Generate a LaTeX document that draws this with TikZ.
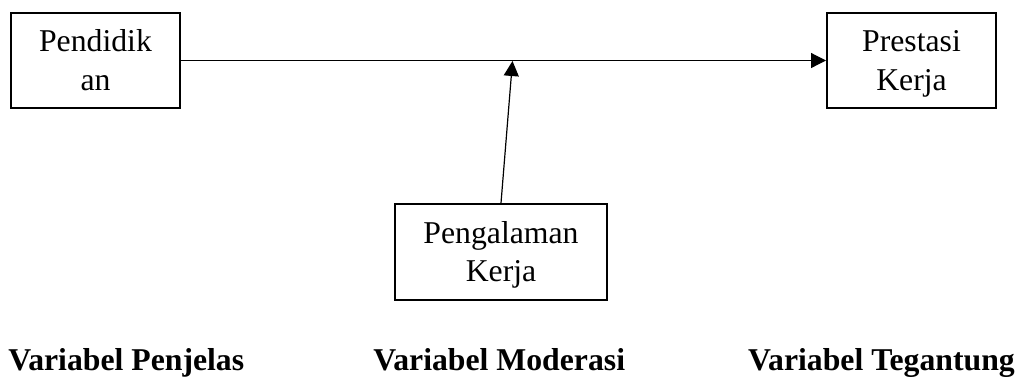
\documentclass[tikz,border=0pt]{standalone}
\usepackage{fontspec}
\setmainfont{Liberation Serif}
\usetikzlibrary{arrows.meta}
\newcommand\boxstrut{\rule[-6pt]{0pt}{27.75pt}}
\tikzset{
  box/.style={draw, line width=1.5pt, rectangle, inner sep=0pt, align=center,
    font=\fontsize{23.8}{27}\selectfont},
  arr/.style={draw, line width=0.9pt, -{Triangle[length=11.25pt,width=11.25pt]}},
  lbl/.style={inner sep=0pt, font=\fontsize{23.8}{27}\selectfont\bfseries}
}
\begin{document}
\begin{tikzpicture}[x=0.75pt,y=-0.75pt]
\useasboundingbox (0,0) rectangle (1024,376);
\node[box, minimum width=126.75pt, minimum height=71.25pt] (pend) at (95.5,60.5) {\boxstrut Pendidik\\\boxstrut an};
\node[box, minimum width=126.75pt, minimum height=71.25pt] (pres) at (911.5,60.5) {\boxstrut Prestasi\\\boxstrut Kerja};
\node[box, minimum width=159pt, minimum height=72pt] (peng) at (501,252) {\boxstrut Pengalaman\\\boxstrut Kerja};
\coordinate (m) at (512.5,61);
\draw[arr] (pend.east) -- (pres.west);
\draw[arr] (peng.north) -- (m);
\node[lbl, anchor=base west] (l1) at (8,370) {Variabel Penjelas};
\node[lbl, anchor=base west] (l2) at (373,370) {Variabel Moderasi};
\node[lbl, anchor=base east] (l3) at (1015,370) {Variabel Tegantung};
\end{tikzpicture}
\end{document}
